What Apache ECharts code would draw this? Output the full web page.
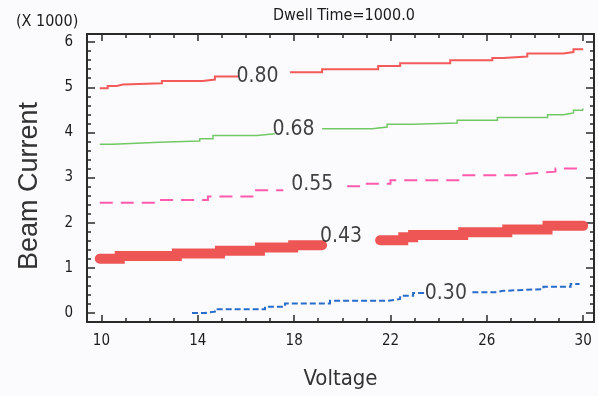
<!DOCTYPE html>
<html>
<head>
<meta charset="utf-8">
<title>Dwell Time contours</title>
<script src="https://cdn.jsdelivr.net/npm/echarts/dist/echarts.min.js"></script>
<style>
  html, body { margin: 0; padding: 0; background: #fbfbfd; }
  #chart { width: 598px; height: 396px; }
</style>
</head>
<body>
<div id="chart"></div>
<script>
// Axis ranges and tick positions
const xRange = [9.4, 30.45];
const yRange = [-0.2, 6.18];
const xMajorTicks = [10, 14, 18, 22, 26, 30];
const xMinorTicks = [10, 11, 12, 13, 14, 15, 16, 17, 18, 19, 20, 21, 22, 23, 24, 25, 26, 27, 28, 29, 30];
const yMajorTicks = [0, 1, 2, 3, 4, 5, 6];
const yMinorTicks = [0, 0.2, 0.4, 0.6, 0.8, 1, 1.2, 1.4, 1.6, 1.8, 2, 2.2, 2.4, 2.6, 2.8, 3, 3.2, 3.4, 3.6, 3.8,
                     4, 4.2, 4.4, 4.6, 4.8, 5, 5.2, 5.4, 5.6, 5.8, 6];

// Contour lines [voltage, beam current (x1000)], split where the level label sits
const level080a = [[9.93, 4.98], [10.26, 5.03], [10.64, 5.06], [10.89, 5.09], [12.51, 5.14], [14.21, 5.17], [14.71, 5.24], [15.67, 5.24]];
const level080b = [[17.83, 5.33], [19.16, 5.40], [21.49, 5.47], [22.40, 5.53], [24.48, 5.60], [26.23, 5.65], [26.69, 5.68], [27.68, 5.75], [29.18, 5.78], [29.60, 5.84], [30.0, 5.84]];

const level068a = [[9.93, 3.74], [10.47, 3.78], [12.42, 3.81], [14.08, 3.86], [14.63, 3.93], [16.46, 3.97], [17.2, 3.97]];
const level068b = [[19.16, 4.08], [21.24, 4.12], [21.86, 4.18], [22.94, 4.21], [24.77, 4.27], [26.44, 4.33], [28.52, 4.39], [29.18, 4.43], [29.6, 4.49], [29.97, 4.53], [30.0, 4.53]];

const level055a = [[9.93, 2.44], [12.3, 2.5], [14.42, 2.58], [16.38, 2.72], [17.55, 2.72]];
const level055b = [[20.2, 2.81], [20.83, 2.86], [22.0, 2.94], [24.9, 3.05], [27.2, 3.09], [27.8, 3.13], [28.85, 3.2], [29.97, 3.24], [30.0, 3.24]];

const level043a = [[9.93, 1.2], [10.76, 1.26], [13.13, 1.32], [14.92, 1.38], [16.58, 1.45], [17.96, 1.5], [19.16, 1.5]];
const level043b = [[21.57, 1.61], [22.53, 1.68], [22.94, 1.73], [25.02, 1.79], [26.85, 1.85], [28.52, 1.93], [30.0, 1.93]];

const level030a = [[13.76, 0.0], [14.3, 0.03], [14.71, 0.08], [16.79, 0.14], [17.62, 0.21], [19.49, 0.27], [21.9, 0.31], [22.4, 0.38], [22.94, 0.44], [23.4, 0.44]];
const level030b = [[25.4, 0.46], [26.36, 0.49], [26.69, 0.53], [28.35, 0.58], [29.48, 0.64], [29.85, 0.64]];

// Level labels placed along the contours
const levelNames = ['0.80', '0.68', '0.55', '0.43', '0.30'];
const levelLabelVoltage = [16.48, 17.97, 18.75, 19.95, 24.3];
const levelLabelCurrent = [5.24, 4.07, 2.84, 1.70, 0.43];

const NARROW = "'Liberation Sans Narrow', 'DejaVu Sans Condensed', 'Arial Narrow', sans-serif";
const REGULAR = "'Liberation Sans', Arial, sans-serif";
const INK = '#1c1c1c';
const FRAME = '#2a2a2a';

function xAxisDef(position, ticks, len, main, showLine) {
  return {
    type: 'value', position: position, min: xRange[0], max: xRange[1],
    splitLine: { show: false },
    axisLine: { show: showLine, onZero: false, lineStyle: { color: FRAME, width: 2 } },
    axisTick: { show: true, inside: true, length: len, customValues: ticks, lineStyle: { color: FRAME, width: 1.5 } },
    axisLabel: main ? { show: true, customValues: ticks, margin: 12, color: INK, fontFamily: NARROW, fontSize: 15 } : { show: false },
    name: main ? 'Voltage' : '',
    nameLocation: 'middle', nameGap: 46,
    nameTextStyle: { color: '#333', fontFamily: NARROW, fontSize: 22 }
  };
}
function yAxisDef(position, ticks, len, main, showLine) {
  return {
    type: 'value', position: position, min: yRange[0], max: yRange[1],
    splitLine: { show: false },
    axisLine: { show: showLine, onZero: false, lineStyle: { color: FRAME, width: 2 } },
    axisTick: { show: true, inside: true, length: len, customValues: ticks, lineStyle: { color: FRAME, width: 1.5 } },
    axisLabel: main ? { show: true, customValues: ticks, margin: 14, color: INK, fontFamily: NARROW, fontSize: 15 } : { show: false },
    name: main ? 'Beam Current' : '',
    nameLocation: 'middle', nameGap: 44, nameRotate: 90,
    nameTextStyle: { color: '#333', fontFamily: REGULAR, fontSize: 27, padding: [0, 16, 0, 0] }
  };
}

function contour(data, color, width, type) {
  return {
    type: 'line', data: data, xAxisIndex: 0, yAxisIndex: 0,
    step: 'end', showSymbol: false, symbol: 'none', silent: true,
    lineStyle: { color: color, width: width, type: type, cap: width > 5 ? 'round' : 'butt', join: 'miter' },
    z: 3
  };
}

const labelPoints = levelNames.map((name, i) => ({ value: [levelLabelVoltage[i], levelLabelCurrent[i]], name: name }));

const chart = echarts.init(document.getElementById('chart'), null, { renderer: 'canvas' });
chart.setOption({
  animation: false,
  backgroundColor: '#fbfbfd',
  title: [
    { text: 'Dwell Time=1000.0', left: 273, top: 8, padding: 0,
      textStyle: { color: INK, fontFamily: NARROW, fontSize: 16, fontWeight: 'normal' } },
    { text: '(X 1000)', left: 16, top: 14, padding: 0,
      textStyle: { color: INK, fontFamily: NARROW, fontSize: 16, fontWeight: 'normal' } }
  ],
  grid: { left: 87, right: 4, top: 34, bottom: 74, containLabel: false },
  xAxis: [
    xAxisDef('bottom', xMajorTicks, 7, true, true),
    xAxisDef('bottom', xMinorTicks, 4, false, false),
    xAxisDef('top', xMajorTicks, 7, false, true),
    xAxisDef('top', xMinorTicks, 4, false, false)
  ],
  yAxis: [
    yAxisDef('left', yMajorTicks, 8, true, true),
    yAxisDef('left', yMinorTicks, 4, false, false),
    yAxisDef('right', yMajorTicks, 8, false, true),
    yAxisDef('right', yMinorTicks, 4, false, false)
  ],
  series: [
    contour(level080a, '#f35a5a', 2, 'solid'),
    contour(level080b, '#f35a5a', 2, 'solid'),
    contour(level068a, '#72c864', 1.5, 'solid'),
    contour(level068b, '#72c864', 1.5, 'solid'),
    contour(level055a, '#ff5aae', 2, [13, 8]),
    contour(level055b, '#ff5aae', 2, [13, 8]),
    contour(level043a, '#ee5656', 10, 'solid'),
    contour(level043b, '#ee5656', 10, 'solid'),
    contour(level030a, '#2a6ccc', 2, [6, 3]),
    contour(level030b, '#2a6ccc', 2, [6, 3]),
    {
      type: 'scatter', data: labelPoints, xAxisIndex: 0, yAxisIndex: 0,
      symbolSize: 0, silent: true, z: 5,
      label: {
        show: true, position: 'inside', formatter: p => p.name,
        color: '#111', fontFamily: NARROW, fontSize: 21
      }
    }
  ]
});
</script>
</body>
</html>
